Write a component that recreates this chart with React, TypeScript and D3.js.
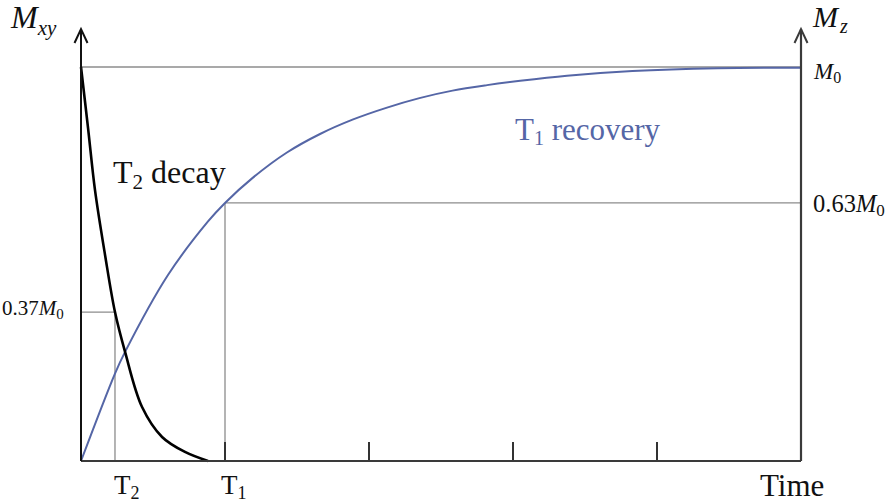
import React from "react";
import * as d3 from "d3";

// ---- data ----
const timeTicks = [1, 2, 3, 4];
const T2_TIME = 0.236;
const T1_TIME = 1.0;
const LEVEL_T2 = 0.378; // drawn 0.37 M0 guide
const LEVEL_T1 = 0.655; // drawn 0.63 M0 guide
const M0_LEVEL = 1.0;

const t2DecayTime = [0, 0.049, 0.097, 0.167, 0.236, 0.306, 0.424, 0.563, 0.722, 0.882];
const t2DecayValue = [1.0, 0.845, 0.688, 0.523, 0.378, 0.277, 0.137, 0.061, 0.023, 0.0];

const t1RecTime = [0, 0.236, 0.306, 0.604, 0.882, 1.0, 1.19, 1.43, 1.66, 1.89, 2.125, 2.35, 2.58, 2.82, 3.05, 3.375, 3.83, 4.42, 5.0];
const t1RecValue = [0, 0.222, 0.277, 0.472, 0.608, 0.655, 0.718, 0.783, 0.83, 0.867, 0.897, 0.921, 0.94, 0.954, 0.965, 0.978, 0.99, 0.997, 0.998];

const W = 887;
const H = 503;
const X0 = 81;
const X1 = 801;
const YB = 461;
const YT = 67;

const serif = "'Liberation Serif', 'DejaVu Serif', serif";
const blue = "#5566a6";

export default function App() {
  const x = d3.scaleLinear().domain([0, 5]).range([X0, X1]);
  const y = d3.scaleLinear().domain([0, 1]).range([YB, YT]);

  const line = d3
    .line<[number, number]>()
    .x((d) => x(d[0]))
    .y((d) => y(d[1]))
    .curve(d3.curveCatmullRom.alpha(0.5));

  const t2Data = t2DecayTime.map((t, i) => [t, t2DecayValue[i]] as [number, number]);
  const t1Data = t1RecTime.map((t, i) => [t, t1RecValue[i]] as [number, number]);

  const axisTop = 29;
  const arrow = (cx: number) => `M${cx - 6.5},${axisTop + 14} L${cx},${axisTop} L${cx + 6.5},${axisTop + 14}`;

  return (
    <svg
      width={W}
      height={H}
      style={{ position: "absolute", left: 0, top: 0, background: "#fff" }}
      fontFamily={serif}
    >
      {/* guide lines */}
      <line x1={x(0)} x2={x(5)} y1={y(M0_LEVEL)} y2={y(M0_LEVEL)} stroke="#8c8c8c" strokeWidth={1.6} />
      <line x1={x(T1_TIME)} x2={x(5)} y1={y(LEVEL_T1)} y2={y(LEVEL_T1)} stroke="#8c8c8c" strokeWidth={1.3} />
      <line x1={x(T1_TIME)} x2={x(T1_TIME)} y1={y(LEVEL_T1)} y2={y(0)} stroke="#8c8c8c" strokeWidth={1.3} />
      <line x1={x(0)} x2={x(T2_TIME)} y1={y(LEVEL_T2)} y2={y(LEVEL_T2)} stroke="#8c8c8c" strokeWidth={1.3} />
      <line x1={x(T2_TIME)} x2={x(T2_TIME)} y1={y(LEVEL_T2)} y2={y(0)} stroke="#8c8c8c" strokeWidth={1.3} />

      {/* ticks */}
      {timeTicks.map((t) => (
        <line key={t} x1={x(t)} x2={x(t)} y1={YB} y2={YB - 19} stroke="#333" strokeWidth={2} />
      ))}

      {/* curves */}
      <path d={line(t1Data) || ""} fill="none" stroke={blue} strokeWidth={2} />
      <path d={line(t2Data) || ""} fill="none" stroke="#000" strokeWidth={2.6} />

      {/* axes */}
      <line x1={X0} x2={X1} y1={YB} y2={YB} stroke="#3a3a3a" strokeWidth={2.2} />
      <line x1={X0} x2={X0} y1={YB} y2={axisTop} stroke="#111" strokeWidth={2} />
      <line x1={X1} x2={X1} y1={YB} y2={axisTop} stroke="#3a3a3a" strokeWidth={2.2} />
      <path d={arrow(X0)} fill="none" stroke="#111" strokeWidth={2} />
      <path d={arrow(X1)} fill="none" stroke="#3a3a3a" strokeWidth={2} />

      {/* axis titles */}
      <text x={11} y={28} fontSize={32} fontStyle="italic" fill="#111">
        M
        <tspan fontSize={21} dy={7}>xy</tspan>
      </text>
      <text x={813} y={27} fontSize={30} fontStyle="italic" fill="#111">
        M
        <tspan fontSize={20} dy={6} dx={2}>z</tspan>
      </text>
      <text x={760} y={496} fontSize={31} fill="#111">Time</text>

      {/* level labels */}
      <text x={814} y={79} fontSize={23} fill="#111">
        <tspan fontStyle="italic">M</tspan>
        <tspan fontSize={16} dy={4}>0</tspan>
      </text>
      <text x={813} y={212} fontSize={24.5} fill="#111">
        0.63<tspan fontStyle="italic">M</tspan>
        <tspan fontSize={17} dy={4}>0</tspan>
      </text>
      <text x={2} y={315} fontSize={21} fill="#111">
        0.37<tspan fontStyle="italic">M</tspan>
        <tspan fontSize={15} dy={4}>0</tspan>
      </text>

      {/* time labels */}
      <text x={x(T2_TIME) - 1} y={494} fontSize={27} fill="#111">
        T<tspan fontSize={18} dy={5}>2</tspan>
      </text>
      <text x={x(T1_TIME) - 4} y={494} fontSize={27} fill="#111">
        T<tspan fontSize={18} dy={5}>1</tspan>
      </text>

      {/* curve labels */}
      <text x={113} y={183} fontSize={32} fill="#111">
        T<tspan fontSize={21} dy={6}>2</tspan>
        <tspan dy={-6}> decay</tspan>
      </text>
      <text x={515} y={140} fontSize={31} fill={blue}>
        T<tspan fontSize={20} dy={5}>1</tspan>
        <tspan dy={-5}> recovery</tspan>
      </text>
    </svg>
  );
}
